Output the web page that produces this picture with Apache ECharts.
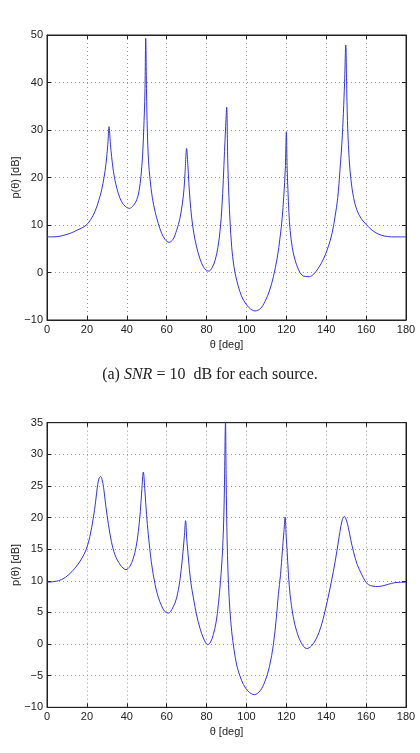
<!DOCTYPE html>
<html>
<head>
<meta charset="utf-8">
<script src="https://cdn.jsdelivr.net/npm/echarts@6/dist/echarts.min.js"></script>
<style>
html,body{margin:0;padding:0;background:#fff;}
#c{width:420px;height:753px;}
</style>
</head>
<body>
<div id="c"></div>
<script>
// ---- data ----
var xTicks = [0, 20, 40, 60, 80, 100, 120, 140, 160, 180];
var yTicksA = [-10, 0, 10, 20, 30, 40, 50];
var yTicksB = [-10, -5, 0, 5, 10, 15, 20, 25, 30, 35];

var thetaA = [0, 3, 6, 9, 12, 15, 18, 20, 22, 24, 26, 27.4, 28.6, 29.6, 30.5, 31.1, 31.8, 32.4, 33.3, 34.4, 35.8, 37.4, 39.3, 41.3, 43.3, 45, 46.2, 47.1, 47.9, 48.5, 49.1, 49.5, 49.9, 50.3, 50.9, 51.7, 52.8, 54.2, 55.8, 57.5, 59.3, 61.2, 63.2, 65, 66.6, 67.9, 68.7, 69.2, 70, 70.6, 71.1, 71.7, 72.5, 73.6, 75, 76.6, 78.4, 79.8, 81.2, 82.8, 84.3, 85.7, 86.8, 87.7, 88.4, 89.0, 89.5, 90.1, 90.6, 91.2, 91.8, 92.6, 93.7, 95.1, 96.7, 98.5, 101.3, 104.3, 107, 109.3, 111.5, 113.5, 115.4, 116.9, 117.9, 118.7, 119.5, 120, 120.4, 120.8, 121.3, 121.9, 123, 124.4, 126, 127.7, 129.5, 131.5, 133.8, 136, 138.6, 141, 142.9, 144.4, 145.8, 146.9, 147.9, 148.6, 149.2, 149.8, 150.3, 150.8, 151.5, 152.4, 153.7, 155.3, 157.6, 160.3, 163, 166.1, 169, 172.8, 176, 180];
var pA = [7.5, 7.5, 7.6, 7.9, 8.3, 8.9, 9.5, 10.1, 11.2, 12.8, 15.2, 17.4, 20, 23, 27, 30.7, 27, 24.4, 21.3, 18.8, 16.6, 14.9, 13.9, 13.5, 14.1, 15.3, 17.3, 20.2, 24.5, 30, 38, 49.3, 38, 30, 23.5, 19.5, 15.8, 12.8, 10.3, 8.25, 6.9, 6.35, 7.0, 8.9, 11.3, 14.6, 17.6, 20.9, 26.1, 22.8, 19.0, 15.3, 11.7, 8.3, 5.4, 3.0, 1.2, 0.5, 0.3, 1.0, 2.6, 5.3, 8.9, 13.8, 19.5, 25.5, 30, 34.8, 24, 16, 10.6, 5.4, 1.3, -1.6, -4.0, -5.8, -7.4, -8.1, -7.6, -6.1, -3.9, -0.9, 3.0, 7.5, 11.4, 16, 22, 29.6, 22, 17.4, 12.6, 8.9, 5.2, 2.6, 0.7, -0.5, -0.85, -0.88, -0.3, 0.9, 2.8, 5.4, 8.2, 11.7, 15.8, 21.6, 27.5, 33.5, 40, 47.9, 38, 30, 24, 19.5, 15.8, 13.2, 11.3, 10, 8.9, 8.1, 7.7, 7.5, 7.5, 7.5];

var thetaB = [0, 4, 7.4, 11, 14, 17, 19.6, 21.5, 23.2, 24.4, 25.4, 26.2, 26.9, 27.6, 28.4, 29.5, 30.8, 32.3, 34.1, 36.8, 39.6, 41.6, 43.3, 44.7, 45.8, 46.8, 47.5, 48.3, 49.1, 49.9, 50.8, 52.3, 54.2, 55.8, 57.5, 59.2, 60.9, 63, 65, 66.6, 67.9, 68.8, 69.5, 70.1, 70.9, 72, 73.4, 75, 76.7, 78.6, 80.6, 82, 83.4, 84.8, 85.9, 87, 88, 88.8, 89.5, 89.8, 90.1, 90.5, 91, 91.7, 92.6, 93.8, 95.1, 96.7, 98.5, 101, 104, 106.8, 109.3, 111.5, 113.5, 115, 116, 117.1, 118, 118.8, 119.4, 119.9, 120.4, 121.1, 121.9, 123.4, 125.2, 127.5, 130.2, 132.6, 135.2, 137.4, 139.4, 141.5, 143.6, 145.4, 146.9, 148.1, 149.1, 150.1, 151.1, 152.3, 153.6, 155.5, 157.8, 159.5, 161.1, 163.5, 166.1, 169.5, 172.8, 176, 180];
var pB = [9.77, 9.9, 10.2, 11.0, 12.0, 13.3, 14.9, 17.0, 19.9, 22.6, 25.2, 26.3, 26.5, 26.0, 24.7, 21.8, 18.9, 16.2, 14.1, 12.5, 11.77, 12.3, 13.6, 15.4, 17.8, 21.0, 24.2, 27.2, 24.2, 20.5, 17.3, 13.0, 9.4, 7.4, 6.0, 5.1, 4.9, 5.7, 7.3, 10.0, 13.6, 16.8, 19.5, 16.5, 13.6, 10.0, 7.3, 4.6, 2.5, 0.8, -0.1, 0.3, 1.5, 3.5, 6.2, 10.0, 14.7, 22, 35, 27, 19.9, 14, 9.4, 5.4, 2.0, -0.9, -3.3, -5.0, -6.4, -7.5, -8.0, -7.4, -5.9, -3.6, -0.1, 4.2, 7.8, 11.0, 14.7, 17.8, 20.1, 17.2, 14.7, 10.8, 7.8, 4.4, 2.0, 0.2, -0.72, -0.3, 0.96, 2.8, 5.2, 8.2, 11.5, 14.8, 17.8, 19.7, 20.2, 19.6, 18.4, 16.5, 14.7, 12.6, 11.0, 10.0, 9.4, 9.15, 9.1, 9.3, 9.6, 9.75, 9.77];

var xName = 'θ [deg]';
var yName = 'p(θ) [dB]';

// ---- chart ----
function zip(a, b) { return a.map(function (v, i) { return [v, b[i]]; }); }
function minus(v) { return String(v).replace('-', '\u2212'); }

var TXT = '#222';
var FONT = 'Liberation Sans';
var FS = 11;
var grids = [
  { left: 47, right: 14, top: 35, height: 285, show: true, borderColor: '#222', borderWidth: 1,
    containLabel: false, outerBoundsMode: 'none' },
  { left: 47, right: 14, top: 422.7, height: 284.6, show: true, borderColor: '#222', borderWidth: 1,
    containLabel: false, outerBoundsMode: 'none' }
];

function xAxes(gi) {
  return [
    { type: 'value', gridIndex: gi, min: 0, max: 180, interval: 20, position: 'bottom',
      name: xName, nameLocation: 'middle', nameGap: 19, nameMoveOverlap: false,
      nameTextStyle: { color: TXT, fontSize: FS, fontFamily: FONT },
      axisLine: { show: true, onZero: false, lineStyle: { color: '#222' } },
      axisTick: { show: true, inside: true, length: 4, lineStyle: { color: '#222' } },
      axisLabel: { color: TXT, fontSize: FS, fontFamily: FONT, margin: 4, formatter: minus },
      splitLine: { show: true, lineStyle: { color: '#999', type: [1, 3], width: 1 } } },
    { type: 'value', gridIndex: gi, min: 0, max: 180, interval: 20, position: 'top',
      axisLine: { show: true, onZero: false, lineStyle: { color: '#222' } },
      axisTick: { show: true, inside: true, length: 4, lineStyle: { color: '#222' } },
      axisLabel: { show: false }, splitLine: { show: false } }
  ];
}
function yAxes(gi, min, max, interval) {
  return [
    { type: 'value', gridIndex: gi, min: min, max: max, interval: interval, position: 'left',
      name: yName, nameLocation: 'middle', nameGap: 26, nameMoveOverlap: false,
      nameTextStyle: { color: TXT, fontSize: FS, fontFamily: FONT },
      axisLine: { show: true, onZero: false, lineStyle: { color: '#222' } },
      axisTick: { show: true, inside: true, length: 4, lineStyle: { color: '#222' } },
      axisLabel: { color: TXT, fontSize: FS, fontFamily: FONT, margin: 4, formatter: minus },
      splitLine: { show: true, lineStyle: { color: '#999', type: [1, 3], width: 1 } } },
    { type: 'value', gridIndex: gi, min: min, max: max, interval: interval, position: 'right',
      axisLine: { show: true, onZero: false, lineStyle: { color: '#222' } },
      axisTick: { show: true, inside: true, length: 4, lineStyle: { color: '#222' } },
      axisLabel: { show: false }, splitLine: { show: false } }
  ];
}

var option = {
  backgroundColor: '#fff',
  animation: false,
  grid: grids,
  xAxis: xAxes(0).concat(xAxes(1)),
  yAxis: yAxes(0, -10, 50, 10).concat(yAxes(1, -10, 35, 5)),
  series: [
    { type: 'line', xAxisIndex: 0, yAxisIndex: 0, data: zip(thetaA, pA), showSymbol: false,
      smooth: 0.35, clip: true,
      lineStyle: { color: '#3535e0', width: 1 } },
    { type: 'line', xAxisIndex: 2, yAxisIndex: 2, data: zip(thetaB, pB), showSymbol: false,
      smooth: 0.35, clip: true,
      lineStyle: { color: '#3535e0', width: 1 } }
  ],
  graphic: [
    { type: 'text', left: 'center', top: 367,
      style: {
        text: '(a) {i|SNR} = 10  dB for each source.',
        font: '16px "Liberation Serif"', fill: '#222',
        rich: { i: { fontStyle: 'italic', fontFamily: 'Liberation Serif', fontSize: 16, fill: '#222' } }
      } }
  ]
};

var chart = echarts.init(document.getElementById('c'), null, { renderer: 'canvas' });
chart.setOption(option);
</script>
</body>
</html>
